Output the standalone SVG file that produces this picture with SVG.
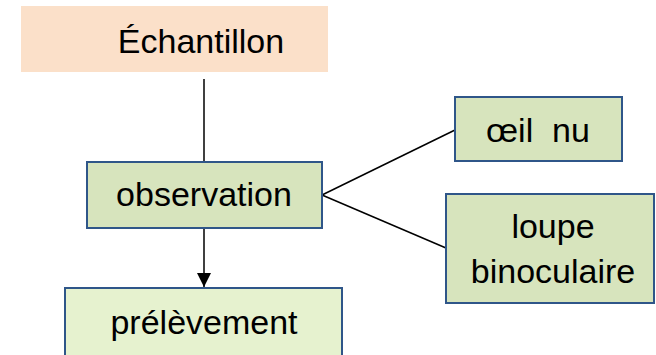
<svg xmlns="http://www.w3.org/2000/svg" width="656" height="355" viewBox="0 0 656 355">
  <defs>
    <marker id="arrow" viewBox="0 0 10 10" refX="10" refY="5" markerWidth="14" markerHeight="14" markerUnits="userSpaceOnUse" orient="auto">
      <path d="M0,0 L10,5 L0,10 z" fill="#000"/>
    </marker>
    <style>
      .box { stroke: #2F5689; stroke-width: 2; }
      .lbl { font-family: "Liberation Sans", Arial, sans-serif; font-size: 34px; fill: #000; text-anchor: middle; }
      .conn { stroke: #000; stroke-width: 1.5; fill: none; }
    </style>
  </defs>
  <rect width="656" height="355" fill="#fff"/>

  <g id="connectors">
    <line class="conn" x1="204" y1="79" x2="204" y2="162"/>
    <line class="conn" x1="204" y1="229" x2="204" y2="287" stroke-width="2" marker-end="url(#arrow)"/>
    <line class="conn" x1="322" y1="195" x2="455" y2="130"/>
    <line class="conn" x1="322" y1="195" x2="446" y2="248"/>
  </g>

  <g id="echantillon">
    <rect x="21" y="6" width="307" height="66" fill="#FBE0C9"/>
    <text class="lbl" x="201" y="53">Échantillon</text>
  </g>

  <g id="observation">
    <rect class="box" x="87" y="162" width="235" height="66" fill="#D7E4BD"/>
    <text class="lbl" x="204" y="206">observation</text>
  </g>

  <g id="prelevement">
    <rect class="box" x="65" y="288" width="277" height="70" fill="#E6F2CF"/>
    <text class="lbl" x="204" y="334">prélèvement</text>
  </g>

  <g id="oeil-nu">
    <rect class="box" x="455" y="97" width="167" height="64" fill="#D7E4BD"/>
    <text class="lbl" x="538" y="142" xml:space="preserve">œil  nu</text>
  </g>

  <g id="loupe">
    <rect class="box" x="446" y="194" width="208" height="109" fill="#D7E4BD"/>
    <text class="lbl" x="553" y="238">loupe</text>
    <text class="lbl" x="553" y="283">binoculaire</text>
  </g>
</svg>
